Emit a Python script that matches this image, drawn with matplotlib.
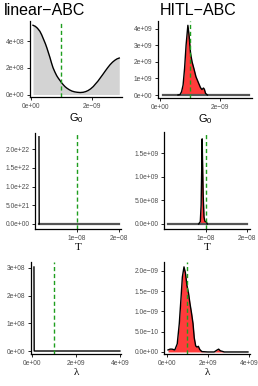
import matplotlib
matplotlib.use('Agg')
import matplotlib.pyplot as plt

# panel data, x and y in scaled units
g0_lin_x = [0.075, 0.15, 0.22, 0.3, 0.36, 0.42, 0.48, 0.53, 0.58, 0.63, 0.68, 0.73, 0.79, 0.85, 0.9, 0.96, 1.02, 1.08, 1.13, 1.19, 1.27, 1.35, 1.44, 1.52, 1.62, 1.72, 1.8, 1.88, 1.96, 2.05, 2.12, 2.2, 2.28, 2.36, 2.44, 2.52, 2.6, 2.68, 2.76, 2.83, 2.9]
g0_lin_y = [5.2, 5.12, 4.98, 4.75, 4.48, 4.15, 3.82, 3.5, 3.14, 2.78, 2.38, 2.02, 1.7, 1.42, 1.24, 1.05, 0.86, 0.7, 0.58, 0.47, 0.35, 0.26, 0.2, 0.17, 0.15, 0.17, 0.22, 0.3, 0.42, 0.6, 0.79, 1.0, 1.25, 1.5, 1.76, 2.01, 2.24, 2.43, 2.58, 2.68, 2.74]

g0_hitl_x = [0.60, 0.67, 0.72, 0.77, 0.82, 0.87, 0.93, 0.97, 1.02, 1.07, 1.13, 1.2, 1.28, 1.35, 1.40, 1.45, 1.48, 1.52, 1.58]
g0_hitl_y = [0.0, 0.03, 0.2, 0.6, 1.6, 3.0, 4.2, 3.6, 2.5, 2.0, 1.6, 1.1, 0.75, 0.45, 0.33, 0.42, 0.35, 0.1, 0.0]
g0_base = [0.1, 2.97]

t_lin_x = [0.095, 0.1, 2.0]
t_lin_y = [2.33, 0.0, 0.0]

t_hitl_x = [0.82, 0.86, 0.88, 0.895, 0.905, 0.915, 0.93, 0.95, 0.97, 0.99, 1.01, 1.03]
t_hitl_y = [0.0, 0.05, 0.4, 1.2, 1.8, 1.3, 0.6, 0.15, 0.06, 0.05, 0.04, 0.0]
t_base = [0.08, 2.0]

lam_lin_x = [0.09, 0.1, 4.0]
lam_lin_y = [3.03, 0.0, 0.0]

lam_hitl_x = [0.05, 0.15, 0.25, 0.38, 0.5, 0.6, 0.68, 0.75, 0.83, 0.9, 0.97, 1.05, 1.12, 1.2, 1.27, 1.33, 1.4, 1.47, 1.53, 1.6, 1.7, 2.0, 2.3, 2.45, 2.52, 2.6, 2.8, 3.95]
lam_hitl_y = [0.05, 0.07, 0.07, 0.05, 0.2, 0.7, 1.3, 1.85, 2.1, 1.95, 1.65, 1.45, 1.2, 0.95, 0.7, 0.35, 0.15, 0.12, 0.14, 0.06, 0.01, 0.0, 0.0, 0.05, 0.07, 0.03, 0.0, 0.0]

true_g0 = 1e-9
true_t = 1e-8
true_lam = 1e9

W, H = 258, 386
fig = plt.figure(figsize=(W / 100, H / 100), dpi=100)
plt.rcParams['font.family'] = ['Liberation Sans', 'DejaVu Sans']

RED = '#ff3b3b'
GREEN = '#1e9e1e'
TICKC = '#4d4d4d'


def box(l, r, t, b):
    return [l / W, 1 - b / H, (r - l) / W, (b - t) / H]


def style(ax, xlim, ylim, xt, xtl, yt, ytl, xlabel, lfam):
    ax.set_xlim(*xlim)
    ax.set_ylim(*ylim)
    for s in ['top', 'right']:
        ax.spines[s].set_visible(False)
    for s in ['left', 'bottom']:
        ax.spines[s].set_linewidth(0.9)
    ax.set_xticks(xt)
    ax.set_xticklabels(xtl)
    ax.set_yticks(yt)
    ax.set_yticklabels(ytl)
    ax.tick_params(labelsize=4.8, labelcolor=TICKC, length=2, width=0.6, pad=2)
    ax.set_xlabel(xlabel, fontsize=8, family=lfam, labelpad=1)


# top-left: linear-ABC, G0
ax = fig.add_axes(box(30, 122, 21, 97))
x = [v * 1e-9 for v in g0_lin_x]
y = [v * 1e8 for v in g0_lin_y]
ax.fill_between(x, y, color='#d3d3d3', lw=0)
ax.plot(x, y, color='black', lw=1)
ax.axvline(true_g0, color=GREEN, ls=(0, (3, 2)), lw=1)
style(ax, (-0.023e-9, 2.99e-9), (-0.185e8, 5.52e8), [0, 2e-9], ['0e+00', '2e\u221209'],
      [0, 2e8, 4e8], ['0e+00', '2e+08', '4e+08'], r'$\mathregular{G_0}$', 'Liberation Sans')
ax.set_title('linear\u2212ABC', fontsize=11.5, loc='left', x=-0.28, pad=4)

# top-right: HITL-ABC, G0
ax = fig.add_axes(box(158, 252, 21, 98))
x = [v * 1e-9 for v in g0_hitl_x]
y = [v * 1e9 for v in g0_hitl_y]
ax.plot([v * 1e-9 for v in g0_base], [0, 0], color='#555555', lw=1.6)
ax.fill_between(x, y, color=RED, lw=0)
ax.plot(x, y, color='black', lw=1)
ax.axvline(true_g0, color=GREEN, ls=(0, (3, 2)), lw=1)
style(ax, (-0.067e-9, 3.07e-9), (-0.18e9, 4.46e9), [0, 2e-9], ['0e+00', '2e\u221209'],
      [0, 1e9, 2e9, 3e9, 4e9], ['0e+00', '1e+09', '2e+09', '3e+09', '4e+09'],
      r'$\mathregular{G_0}$', 'Liberation Sans')
ax.set_title('HITL\u2212ABC', fontsize=11.5, loc='left', x=0.02, pad=4)

# middle-left: linear-ABC, T
ax = fig.add_axes(box(35, 121, 133, 229))
x = [v * 1e-8 for v in t_lin_x]
y = [v * 1e22 for v in t_lin_y]
ax.plot(x[1:], y[1:], color='#555555', lw=1.6)
ax.plot(x[:2], y[:2], color='black', lw=1)
ax.axvline(true_t, color=GREEN, ls=(0, (3, 2)), lw=1)
style(ax, (0, 2.05e-8), (-0.134e22, 2.43e22), [1e-8, 2e-8], ['1e\u221208', '2e\u221208'],
      [0, 5e21, 1e22, 1.5e22, 2e22], ['0.0e+00', '5.0e+21', '1.0e+22', '1.5e+22', '2.0e+22'],
      'T', 'Liberation Serif')

# middle-right: HITL-ABC, T
ax = fig.add_axes(box(164, 250, 132, 229))
x = [v * 1e-8 for v in t_hitl_x]
y = [v * 1e9 for v in t_hitl_y]
ax.plot([v * 1e-8 for v in t_base], [0, 0], color='#555555', lw=1.6)
ax.fill_between(x, y, color=RED, lw=0)
ax.plot(x, y, color='black', lw=1)
ax.axvline(true_t, color=GREEN, ls=(0, (3, 2)), lw=1)
style(ax, (-0.024e-8, 2.07e-8), (-0.106e9, 1.945e9), [1e-8, 2e-8], ['1e\u221208', '2e\u221208'],
      [0, 5e8, 1e9, 1.5e9], ['0.0e+00', '5.0e+08', '1.0e+09', '1.5e+09'],
      'T', 'Liberation Serif')

# bottom-left: linear-ABC, lambda
ax = fig.add_axes(box(31, 121, 262, 354))
x = [v * 1e9 for v in lam_lin_x]
y = [v * 1e8 for v in lam_lin_y]
ax.plot(x, y, color='black', lw=1)
ax.axvline(true_lam, color=GREEN, ls=(0, (3, 2)), lw=1)
style(ax, (-0.045e9, 4.05e9), (-0.108e8, 3.21e8), [0, 2e9, 4e9], ['0e+00', '2e+09', '4e+09'],
      [0, 1e8, 2e8, 3e8], ['0e+00', '1e+08', '2e+08', '3e+08'],
      '\u03bb', 'Liberation Serif')

# bottom-right: HITL-ABC, lambda
ax = fig.add_axes(box(164, 250, 262, 354))
x = [v * 1e9 for v in lam_hitl_x]
y = [v * 1e-9 for v in lam_hitl_y]
ax.fill_between(x, y, color=RED, lw=0)
ax.plot(x, y, color='black', lw=1)
ax.axvline(true_lam, color=GREEN, ls=(0, (3, 2)), lw=1)
style(ax, (-0.146e9, 4.05e9), (-0.05e-9, 2.22e-9), [0, 2e9, 4e9], ['0e+00', '2e+09', '4e+09'],
      [0, 5e-10, 1e-9, 1.5e-9, 2e-9], ['0.0e+00', '5.0e\u221210', '1.0e\u221209', '1.5e\u221209', '2.0e\u221209'],
      '\u03bb', 'Liberation Serif')

fig.savefig('out.png', dpi=100)
